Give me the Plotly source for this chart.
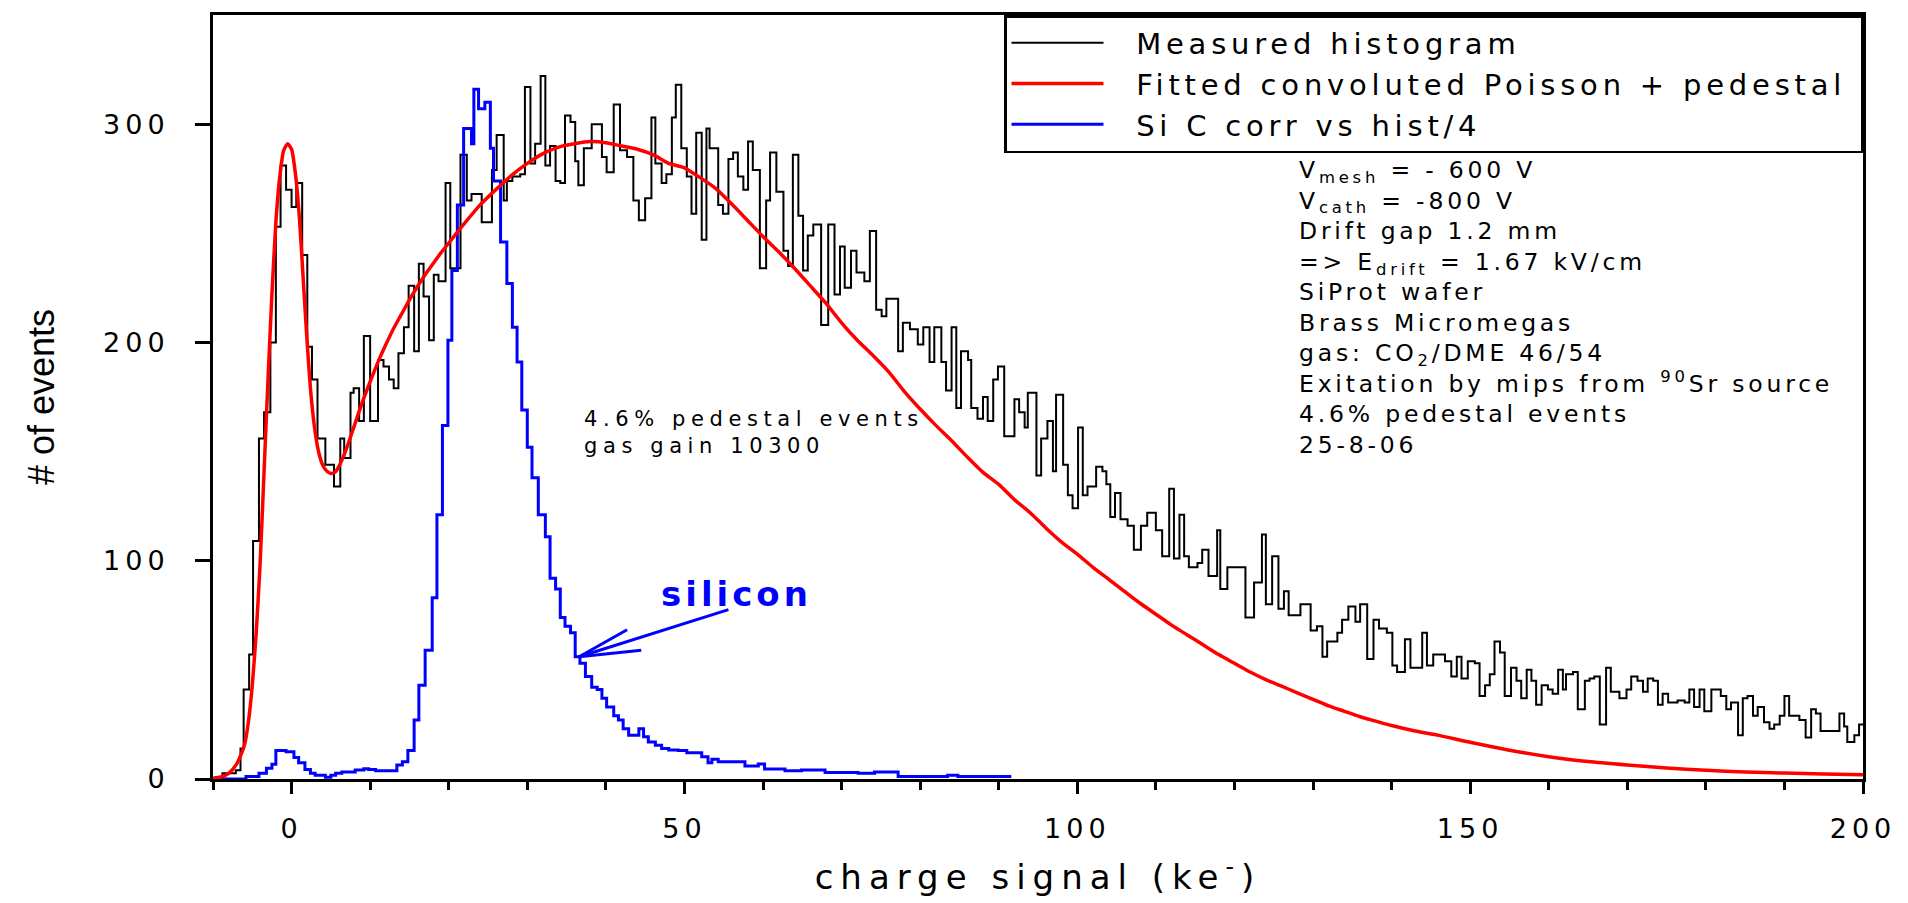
import plotly.graph_objects as go

# ---------------- data ----------------
# Measured histogram: left bin edges and counts (step histogram)
black_edges = [
    -10.0, -8.8, -7.1, -6.5, -6.1, -5.4, -4.9, -4.15, -3.5, -2.7,
    -2.0, -1.4, -0.7, 0.0, 0.6, 1.35, 2.0, 2.6, 3.3, 4.3,
    5.4, 6.2, 6.7, 7.5, 7.9, 8.6, 9.2, 10.0, 11.0, 11.7,
    12.4, 13.0, 13.6, 14.3, 14.9, 15.6, 16.2, 16.8, 17.5, 18.1,
    18.7, 19.6, 20.2, 21.5, 22.3, 22.9, 24.2, 25.5, 26.1, 27.0,
    27.4, 28.1, 29.1, 29.7, 30.4, 31.0, 31.7, 32.3, 32.9, 33.6,
    34.2, 34.8, 35.5, 36.1, 36.5, 37.2, 38.2, 39.5, 40.1, 41.0,
    41.8, 42.7, 43.5, 44.2, 45.0, 45.8, 46.3, 47.1, 47.7, 48.4,
    48.9, 49.6, 50.3, 50.9, 51.5, 52.2, 52.8, 53.2, 54.3, 54.9,
    55.6, 56.2, 56.8, 57.5, 58.1, 58.7, 59.6, 60.4, 60.9, 61.7,
    62.6, 63.2, 63.8, 64.5, 65.1, 65.7, 66.4, 67.4, 68.3, 69.1,
    69.8, 70.4, 71.2, 71.9, 72.9, 73.6, 74.4, 75.1, 75.7, 77.2,
    77.8, 78.7, 79.7, 80.4, 81.2, 81.8, 82.7, 83.3, 84.0, 84.6,
    85.2, 86.1, 86.5, 87.3, 88.0, 88.6, 89.3, 89.9, 90.7, 92.0,
    92.6, 93.3, 93.7, 94.8, 95.4, 96.2, 96.9, 97.3, 98.2, 98.8,
    99.4, 100.1, 100.7, 101.3, 102.4, 103.2, 103.7, 104.2, 104.8, 105.5,
    106.4, 107.2, 108.1, 108.9, 110.0, 110.8, 111.7, 112.3, 113.0, 113.6,
    114.2, 115.3, 115.9, 116.7, 117.8, 118.2, 119.1, 121.4, 122.5, 123.5,
    124.0, 124.8, 125.6, 126.3, 126.9, 128.4, 129.7, 130.5, 131.2, 131.8,
    133.1, 133.7, 134.5, 135.4, 136.0, 136.9, 137.7, 138.4, 139.4, 140.1,
    140.7, 141.7, 142.4, 143.9, 144.5, 145.3, 146.8, 147.6, 148.3, 148.9,
    149.7, 150.6, 151.2, 151.9, 152.5, 153.1, 153.8, 154.4, 155.2, 155.9,
    156.5, 157.2, 157.8, 158.4, 159.1, 159.9, 160.5, 161.2, 161.8, 162.2,
    163.1, 163.7, 164.6, 165.2, 165.8, 166.5, 167.3, 167.9, 169.0, 169.9,
    170.5, 171.3, 172.0, 172.6, 173.3, 173.9, 174.5, 175.2, 176.4, 177.3,
    177.9, 178.5, 179.2, 179.8, 180.7, 181.9, 182.6, 183.2, 184.1, 184.7,
    185.3, 186.0, 186.6, 187.4, 188.1, 188.7, 189.4, 190.0, 190.6, 191.3,
    191.9, 192.7, 193.4, 194.0, 194.6, 197.0, 197.6, 198.0, 198.9, 199.5,
]
black_counts = [
    0, 2.6, 4, 14, 41, 57, 109, 156, 168, 200,
    253, 281, 270, 262, 273, 240, 198, 183, 156, 144,
    134, 156, 147, 177, 179, 164, 203, 164, 192, 189,
    183, 179, 195, 207, 226, 196, 236, 221, 201, 231,
    228, 273, 234, 286, 265, 268, 255, 279, 295, 265,
    274, 276, 277, 317, 282, 291, 322, 281, 290, 274,
    273, 304, 301, 283, 272, 289, 300, 285, 278, 309,
    288, 285, 265, 256, 266, 303, 282, 273, 277, 303,
    318, 289, 276, 259, 296, 247, 298, 289, 263, 259,
    284, 287, 276, 270, 292, 279, 234, 265, 287, 269,
    242, 235, 286, 258, 233, 249, 254, 208, 254, 222,
    244, 225, 242, 232, 228, 251, 215, 212, 220, 196,
    209, 206, 199, 207, 191, 207, 191, 178, 207, 170,
    196, 192, 170, 165, 175, 164, 183, 189, 157, 174,
    168, 161, 177, 139, 156, 164, 141, 176, 144, 130,
    124, 161, 130, 134, 143, 141, 135, 120, 131, 119,
    116, 105, 116, 122, 114, 102, 133, 101, 121, 102,
    97, 99, 105, 93, 114, 87, 97, 74, 90, 112,
    80, 102, 78, 86, 75, 80, 68, 70, 56, 63,
    67, 73, 79, 72, 80, 55, 73, 69, 67, 52,
    49, 64, 51, 67, 52, 57, 54, 47, 56, 46,
    54, 53, 38, 43, 48, 63, 58, 38, 51, 45,
    37, 50, 45, 34, 43, 41, 39, 50, 41, 48,
    49, 32, 45, 46, 47, 25, 51, 40, 37, 41,
    47, 45, 40, 46, 45, 34, 39, 35, 36, 35,
    41, 33, 41, 31, 41, 38, 32, 35, 20, 37,
    38, 29, 33, 26, 23, 25, 29, 38, 29, 29,
    27, 19, 32, 30, 22, 30, 24, 17, 20, 25,
]
black_end = 200.0

# Si C corr vs hist/4 (blue step histogram)
blue_edges = [
    -10.0, -5.8, -4.15, -3.2, -2.5, -2.0, -0.7, 0.3, 0.9, 1.7,
    2.4, 3.0, 4.3, 5.0, 5.6, 6.4, 8.1, 9.2, 9.8, 10.7,
    13.4, 14.1, 14.8, 15.6, 16.2, 17.0, 17.9, 18.5, 19.2, 19.9,
    20.4, 21.1, 21.9, 22.9, 23.2, 23.8, 24.6, 25.3, 25.7, 26.6,
    27.4, 28.1, 28.7, 29.3, 30.0, 30.6, 31.4, 32.3, 32.9, 33.6,
    34.2, 34.8, 35.5, 36.1, 36.7, 37.4, 38.2, 38.9, 39.5, 40.1,
    41.0, 41.6, 42.2, 42.9, 44.2, 44.8, 45.4, 46.3, 47.1, 48.0,
    49.2, 50.3, 52.2, 53.0, 53.5, 54.3, 57.7, 59.4, 60.2, 62.8,
    64.9, 67.9, 72.1, 74.2, 77.2, 83.5, 84.8,
]
blue_counts = [
    0, 1.1, 2.6, 4.9, 6.7, 13, 12.5, 9.9, 7.5, 4.4,
    2.6, 1.7, 0.8, 1.7, 2.6, 3.2, 4.1, 4.7, 4.4, 3.8,
    6.4, 7.9, 13, 27, 43, 59, 83, 121, 162, 201,
    233, 263, 298, 291, 316, 307, 310, 289, 274, 246,
    227, 207, 191, 169, 152, 138, 121, 111, 92, 87,
    74, 70, 67, 56, 53, 47, 42, 41, 37, 33,
    29, 27, 23, 20, 23, 19.4, 17, 15.5, 14, 13.3,
    13, 12, 10.2, 7.5, 9, 7.9, 5.9, 6.9, 4.6, 3.8,
    4.1, 3.0, 2.6, 3.2, 1.1, 1.7, 1.1,
]
blue_end = 91.6

# Fitted convoluted Poisson + pedestal (smooth red curve)
red_x = [
    -10, -9, -8, -7, -6, -5.5, -5, -4.5, -4, -3.5,
    -3, -2.5, -2, -1.5, -1, -0.5, 0, 0.5, 1, 1.5,
    2, 2.5, 3, 3.5, 4, 4.5, 5, 5.5, 6, 7,
    8, 9, 10, 11, 12, 13, 14, 15, 16, 17,
    18, 19, 20, 22, 24, 26, 28, 30, 32, 34,
    36, 38, 40, 42, 44, 46, 48, 50, 52, 54,
    56, 58, 60, 62, 64, 66, 68, 70, 72, 74,
    76, 78, 80, 82, 84, 86, 88, 90, 92, 94,
    96, 98, 100, 102, 104, 106, 108, 110, 112, 114,
    116, 118, 120, 122, 124, 126, 128, 130, 132, 134,
    136, 138, 140, 143, 146, 150, 155, 160, 165, 170,
    175, 180, 185, 190, 195, 200,
]
red_y = [
    0.3, 0.9, 2.6, 6.8, 15.5, 26, 43, 67, 99, 141,
    183, 222, 255, 276, 288, 291, 288.5, 277, 257, 228,
    199, 175, 159, 149, 143.5, 141, 140, 140.5, 143, 151.5,
    162, 172.5, 182, 191, 199, 206.5, 213, 219.5, 225.5, 231,
    236, 241, 245.5, 254.5, 263, 270, 276.5, 282, 286.5, 289.5,
    291, 292, 291.5, 290, 288.5, 286, 282, 280, 275.5, 270.5,
    263.5, 256, 248.5, 241.5, 234, 226, 218, 209, 201, 194,
    186.5, 177.5, 169.5, 162, 155, 147.5, 140.5, 135, 128, 122,
    115, 108.5, 103, 97, 91.5, 86, 80.5, 75.5, 70.5, 66,
    61.5, 57, 53, 49, 45.5, 42.5, 39.5, 36.5, 33.5, 31,
    28.5, 26.5, 24.5, 22, 20, 16.8, 13.2, 10.2, 8, 6.4,
    5, 4, 3.2, 2.7, 2.3, 1.9,
]

series_names = ["Measured histogram", "Fitted convoluted Poisson + pedestal", "Si C corr vs hist/4"]

x_tick_vals = [0, 50, 100, 150, 200]
x_tick_text = ["0", "50", "100", "150", "200"]
y_tick_vals = [0, 100, 200, 300]
y_tick_text = ["0", "100", "200", "300"]

info_lines = [
    "V<sub>mesh</sub> = - 600 V",
    "V<sub>cath</sub> = -800 V",
    "Drift gap 1.2 mm",
    "=&gt; E<sub>drift</sub> = 1.67 kV/cm",
    "SiProt wafer",
    "Brass Micromegas",
    "gas: CO<sub>2</sub>/DME 46/54",
    "Exitation by mips from <sup>90</sup>Sr source",
    "4.6% pedestal events",
    "25-8-06",
]
info_pos = (128.0, 216.0)     # left edge / vertical middle of the text block (data units)

mid_lines = ["4.6% pedestal events", "gas gain 10300"]
mid_pos = (36.9, 158.9)

silicon_label = "silicon"
silicon_pos = (46.7, 84.6)

# arrow pointing at the silicon curve: tip and the three tails
arrow_tip = (36.6, 56.0)
arrow_tails = [(42.7, 68.4), (44.5, 59.0), (55.6, 77.6)]

BLACK = "#000000"
RED = "#ff0000"
BLUE = "#0000ff"
FONT = "DejaVu Sans"


def spaced(text, px):
    return f"<span style='letter-spacing:{px}px'>{text}</span>"


def legend_name(text):
    return "&nbsp;&nbsp;&nbsp;" + spaced(text, 4.8) + "&nbsp;"


fig = go.Figure()

fig.add_trace(go.Scatter(
    x=black_edges + [black_end], y=black_counts + [black_counts[-1]],
    mode="lines", line=dict(color=BLACK, width=2, shape="hv"),
    name=legend_name(series_names[0]), legendrank=1, hoverinfo="skip",
))
fig.add_trace(go.Scatter(
    x=blue_edges + [blue_end], y=blue_counts + [blue_counts[-1]],
    mode="lines", line=dict(color=BLUE, width=3, shape="hv"),
    name=legend_name(series_names[2]), legendrank=3, hoverinfo="skip",
))
fig.add_trace(go.Scatter(
    x=red_x, y=red_y, mode="lines",
    line=dict(color=RED, width=3.5, shape="spline", smoothing=0.6),
    name=legend_name(series_names[1]), legendrank=2, hoverinfo="skip",
))

annotations = [
    dict(x=info_pos[0], y=info_pos[1], xref="x", yref="y",
         xanchor="left", yanchor="middle", align="left",
         text=spaced("<br>".join(info_lines), 3.8), showarrow=False,
         font=dict(family=FONT, size=23.5, color=BLACK)),
    dict(x=mid_pos[0], y=mid_pos[1], xref="x", yref="y",
         xanchor="left", yanchor="middle", align="left",
         text=spaced("<br>".join(mid_lines), 5.6), showarrow=False,
         font=dict(family=FONT, size=21, color=BLACK)),
    dict(x=silicon_pos[0], y=silicon_pos[1], xref="x", yref="y",
         xanchor="left", yanchor="middle",
         text=spaced("<b>" + silicon_label + "</b>", 4), showarrow=False,
         font=dict(family=FONT, size=34, color=BLUE)),
]

shapes = []
for tx, ty in arrow_tails:
    shapes.append(dict(
        type="line", xref="x", yref="y",
        x0=arrow_tip[0], y0=arrow_tip[1], x1=tx, y1=ty,
        line=dict(color=BLUE, width=3),
    ))

fig.update_layout(
    width=1908, height=903,
    margin=dict(l=213, r=41, t=13, b=124, pad=0),
    paper_bgcolor="white", plot_bgcolor="white",
    font=dict(family=FONT, color=BLACK),
    showlegend=True,
    legend=dict(
        x=1, xanchor="right", y=1, yanchor="top",
        bordercolor=BLACK, borderwidth=2.5, bgcolor="white",
        font=dict(family=FONT, size=29, color=BLACK),
        itemwidth=92, tracegroupgap=0, traceorder="normal",
    ),
    annotations=annotations,
    shapes=shapes,
)

fig.update_xaxes(
    range=[-10, 200], showline=True, linewidth=3, linecolor=BLACK, mirror=True,
    showgrid=False, zeroline=False,
    tickmode="array", tickvals=x_tick_vals, ticktext=[spaced(t, 5) for t in x_tick_text],
    ticks="outside", ticklen=12, tickwidth=2.5, tickcolor=BLACK,
    minor=dict(ticks="outside", ticklen=8, tickwidth=2.5, tickcolor=BLACK,
               tickmode="linear", tick0=0, dtick=10),
    tickfont=dict(family=FONT, size=27, color=BLACK),
    ticklabelstandoff=12,
    title=dict(text=spaced("charge signal (ke<sup>-</sup>)", 7),
               font=dict(family=FONT, size=34, color=BLACK), standoff=22),
)
fig.update_yaxes(
    range=[0, 350], showline=True, linewidth=3, linecolor=BLACK, mirror=True,
    showgrid=False, zeroline=False,
    tickmode="array", tickvals=y_tick_vals, ticktext=[spaced(t, 5) for t in y_tick_text],
    ticks="outside", ticklen=15, tickwidth=2.5, tickcolor=BLACK,
    tickfont=dict(family=FONT, size=27, color=BLACK),
    ticklabelstandoff=20,
    title=dict(text="# of events", font=dict(family="Liberation Sans", size=36, color=BLACK),
               standoff=38),
)

fig.write_html(
    "out.html", include_plotlyjs=True, full_html=True,
    config={"displayModeBar": False},
    post_script="document.body.style.margin='0';document.body.style.overflow='hidden';",
)
